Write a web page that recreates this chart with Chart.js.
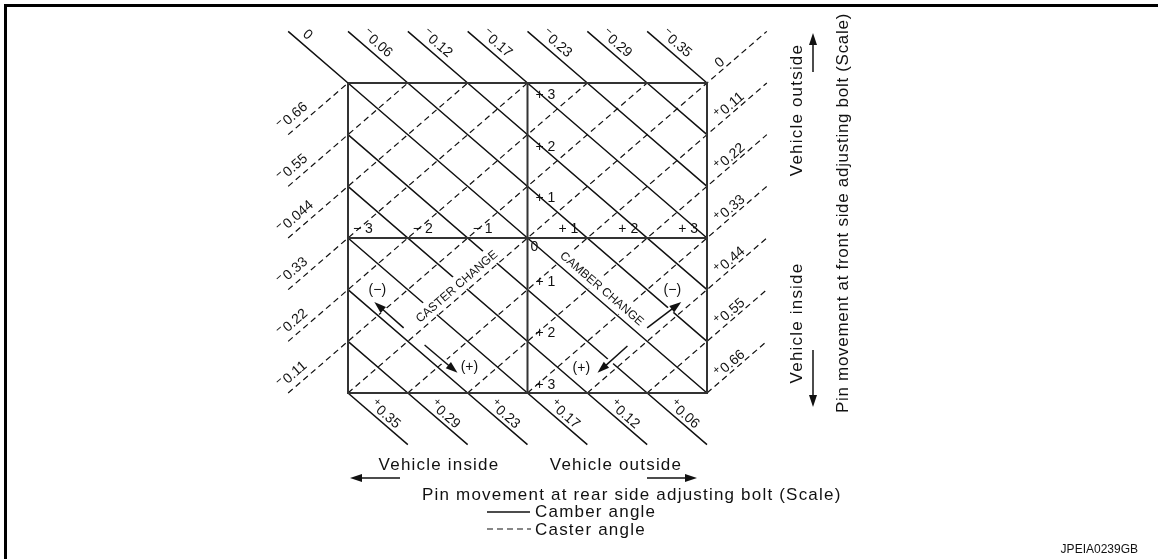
<!DOCTYPE html>
<html>
<head>
<meta charset="utf-8">
<script src="https://cdn.jsdelivr.net/npm/chart.js@4.4.1/dist/chart.umd.min.js"></script>
<style>
  html, body { margin: 0; padding: 0; background: #fff; }
  #wrap { position: relative; width: 1158px; height: 559px; }
</style>
</head>
<body>
<div id="wrap"><canvas id="myChart" width="1158" height="559"></canvas></div>
<script>
// rear bolt scale (x) and front bolt scale (y), in graduations
const rearTicks = [-3, -2, -1, 1, 2, 3];
const rearTickLabels = ['− 3', '− 2', '− 1', '+ 1', '+ 2', '+ 3'];
const frontTicks = [3, 2, 1, 0, -1, -2, -3];
const frontTickLabels = ['+ 3', '+ 2', '+ 1', '0', '+ 1', '+ 2', '+ 3'];

// camber angle lines (solid), index c = x + y
const camberTopIdx = [0, 1, 2, 3, 4, 5, 6];
const camberTopLabels = ['0', '−0.06', '−0.12', '−0.17', '−0.23', '−0.29', '−0.35'];
const camberBottomIdx = [-6, -5, -4, -3, -2, -1];
const camberBottomLabels = ['+0.35', '+0.29', '+0.23', '+0.17', '+0.12', '+0.06'];

// caster angle lines (dashed), index e = y - x
const casterLeftIdx = [6, 5, 4, 3, 2, 1];
const casterLeftLabels = ['−0.66', '−0.55', '−0.044', '−0.33', '−0.22', '−0.11'];
const casterRightIdx = [0, -1, -2, -3, -4, -5, -6];
const casterRightLabels = ['0', '+0.11', '+0.22', '+0.33', '+0.44', '+0.55', '+0.66'];

// direction arrows, in scale units [x1, y1, x2, y2]
const arrows = [
  [-2.07, -1.74, -2.56, -1.24],
  [-1.72, -2.07, -1.17, -2.61],
  [2.0, -1.74, 2.57, -1.24],
  [1.67, -2.09, 1.17, -2.61]
];
const arrowSigns = [['(−)', -2.51, -1.0], ['(+)', -0.97, -2.5], ['(−)', 2.42, -1.0], ['(+)', 0.9, -2.52]];

const FONT = '"Liberation Sans", Arial, sans-serif';
const INK = '#111';

// where the -3..3 box sits on the page
const BOX = { left: 348, right: 707, top: 83, bottom: 393 };
const ux = (BOX.right - BOX.left) / 6, uy = (BOX.bottom - BOX.top) / 6;

let datasets = [];

// outer box and centre lines
datasets.push({ data: [{x: -3, y: 3}, {x: 3, y: 3}, {x: 3, y: -3}, {x: -3, y: -3}, {x: -3, y: 3}],
  borderColor: '#333', borderWidth: 2 });
datasets.push({ data: [{x: 0, y: 3}, {x: 0, y: -3}], borderColor: '#333', borderWidth: 2 });
datasets.push({ data: [{x: -3, y: 0}, {x: 3, y: 0}], borderColor: '#333', borderWidth: 2 });

// camber lines
[...camberBottomIdx, ...camberTopIdx].forEach(c => {
  let pts;
  if (c >= 0) pts = [{x: c - 4, y: 4}, {x: c - 3, y: 3}, {x: 3, y: c - 3}];
  else pts = [{x: -3, y: c + 3}, {x: c + 3, y: -3}, {x: c + 4, y: -4}];
  datasets.push({ data: pts, borderColor: INK, borderWidth: 1.5 });
});

// caster lines
[...casterLeftIdx, ...casterRightIdx].forEach(e => {
  let pts;
  if (e >= 1) pts = [{x: -4, y: e - 4}, {x: -3, y: e - 3}, {x: 3 - e, y: 3}];
  else pts = [{x: -3 - e, y: -3}, {x: 3, y: 3 + e}, {x: 4, y: 4 + e}];
  datasets.push({ data: pts, borderColor: INK, borderWidth: 1.2, borderDash: [6, 4] });
});

datasets.forEach(d => { d.showLine = true; d.pointRadius = 0; d.fill = false; d.clip = false; });

function signedText(ctx, str, x, y, size) {
  let off = 0, s = str;
  if (s[0] === '−' || s[0] === '+') {
    ctx.font = (size - 3) + 'px ' + FONT;
    ctx.fillText(s[0], x, y - 5);
    off = ctx.measureText(s[0]).width + 1;
    s = s.slice(1);
  }
  ctx.font = size + 'px ' + FONT;
  ctx.fillText(s, x + off, y);
}

function diagText(ctx, x0, y0, ang, along, perp, str) {
  const dx = Math.cos(ang), dy = Math.sin(ang);
  ctx.save();
  ctx.translate(x0 + dx * along + dy * perp, y0 + dy * along - dx * perp);
  ctx.rotate(ang);
  ctx.textAlign = 'left';
  ctx.textBaseline = 'alphabetic';
  signedText(ctx, str, 0, 0, 14);
  ctx.restore();
}

function boxedText(ctx, str, x, y, ang, size) {
  ctx.save();
  ctx.translate(x, y);
  ctx.rotate(ang);
  ctx.font = size + 'px ' + FONT;
  const w = ctx.measureText(str).width;
  ctx.fillStyle = '#fff';
  ctx.fillRect(-w / 2 - 3, -size / 2 - 3, w + 6, size + 6);
  ctx.fillStyle = INK;
  ctx.textAlign = 'center';
  ctx.textBaseline = 'middle';
  ctx.fillText(str, 0, 1);
  ctx.restore();
}

function arrow(ctx, x1, y1, x2, y2, halo) {
  const a = Math.atan2(y2 - y1, x2 - x1), L = 12, W = 4;
  if (halo) {
    ctx.strokeStyle = '#fff'; ctx.lineWidth = 7;
    ctx.beginPath(); ctx.moveTo(x1, y1); ctx.lineTo(x2, y2); ctx.stroke();
  }
  ctx.strokeStyle = INK; ctx.lineWidth = 1.5; ctx.setLineDash([]);
  ctx.beginPath(); ctx.moveTo(x1, y1); ctx.lineTo(x2 - L * Math.cos(a) * 0.5, y2 - L * Math.sin(a) * 0.5); ctx.stroke();
  ctx.fillStyle = INK;
  ctx.beginPath();
  ctx.moveTo(x2, y2);
  ctx.lineTo(x2 - L * Math.cos(a) + W * Math.sin(a), y2 - L * Math.sin(a) - W * Math.cos(a));
  ctx.lineTo(x2 - L * Math.cos(a) - W * Math.sin(a), y2 - L * Math.sin(a) + W * Math.cos(a));
  ctx.closePath(); ctx.fill();
}

function plainText(ctx, str, x, y, size, align, rot, spacing) {
  ctx.save();
  ctx.translate(x, y);
  if (rot) ctx.rotate(rot);
  ctx.font = size + 'px ' + FONT;
  ctx.letterSpacing = (spacing === undefined ? 1.2 : spacing) + 'px';
  ctx.fillStyle = INK;
  ctx.textAlign = align;
  ctx.textBaseline = 'middle';
  ctx.fillText(str, 0, 0);
  ctx.restore();
}

const annotate = {
  id: 'annotate',
  afterDraw(chart) {
    const ctx = chart.ctx;
    const X = v => chart.scales.x.getPixelForValue(v);
    const Y = v => chart.scales.y.getPixelForValue(v);
    const ang = Math.atan2(Y(-1) - Y(0), X(1) - X(0));
    ctx.save();

    // frame
    ctx.fillStyle = '#000';
    ctx.fillRect(4, 4, 1154, 3);
    ctx.fillRect(4, 4, 3, 555);
    ctx.fillStyle = INK;

    // camber labels
    camberTopIdx.forEach((c, i) => diagText(ctx, X(c - 4), Y(4), ang, 13, 6, camberTopLabels[i]));
    camberBottomIdx.forEach((c, i) => diagText(ctx, X(c + 3), Y(-3), ang, 25, 4, camberBottomLabels[i]));
    // caster labels
    casterLeftIdx.forEach((e, i) => diagText(ctx, X(-4), Y(e - 4), -ang, -2, 7, casterLeftLabels[i]));
    casterRightIdx.forEach((e, i) => diagText(ctx, X(3), Y(3 + e), -ang, 19, 3, casterRightLabels[i]));

    // scale graduations on the centre lines
    ctx.font = '14px ' + FONT;
    ctx.textBaseline = 'alphabetic';
    rearTicks.forEach((t, i) => {
      ctx.textAlign = t < 0 ? 'left' : 'right';
      ctx.fillText(rearTickLabels[i], X(t) + (t < 0 ? 5 : -9), Y(0) - 5);
    });
    ctx.textAlign = 'left';
    frontTicks.forEach((t, i) => {
      if (t > 0) ctx.fillText(frontTickLabels[i], X(0) + 8, Y(t) + 16);
      else if (t === 0) ctx.fillText(frontTickLabels[i], X(0) + 3, Y(t) + 13);
      else ctx.fillText(frontTickLabels[i], X(0) + 8, Y(t) - 4);
    });

    // change labels
    boxedText(ctx, 'CASTER CHANGE', X(-1.19), Y(-0.93), -ang, 12);
    boxedText(ctx, 'CAMBER CHANGE', X(1.25), Y(-0.97), ang, 12);

    arrows.forEach(a => arrow(ctx, X(a[0]), Y(a[1]), X(a[2]), Y(a[3]), true));
    ctx.font = '14px ' + FONT;
    ctx.textAlign = 'center';
    ctx.textBaseline = 'middle';
    arrowSigns.forEach(s => {
      ctx.fillStyle = '#fff';
      ctx.fillRect(X(s[1]) - 11, Y(s[2]) - 9, 22, 18);
      ctx.fillStyle = INK;
      ctx.fillText(s[0], X(s[1]), Y(s[2]));
    });

    // right-hand axis titles
    plainText(ctx, 'Vehicle outside', 797, 110, 17, 'center', -Math.PI / 2);
    plainText(ctx, 'Vehicle inside', 797, 323, 17, 'center', -Math.PI / 2);
    plainText(ctx, 'Pin movement at front side adjusting bolt (Scale)', 843, 213, 17, 'center', -Math.PI / 2, 0.7);
    arrow(ctx, 813, 72, 813, 33, false);
    arrow(ctx, 813, 350, 813, 407, false);

    // bottom axis titles
    plainText(ctx, 'Vehicle inside', 439, 465, 17, 'center');
    plainText(ctx, 'Vehicle outside', 616, 465, 17, 'center');
    arrow(ctx, 400, 478, 350, 478, false);
    arrow(ctx, 647, 478, 697, 478, false);
    plainText(ctx, 'Pin movement at rear side adjusting bolt (Scale)', 422, 495, 17, 'left');

    // legend
    ctx.strokeStyle = INK; ctx.lineWidth = 1.4;
    ctx.beginPath(); ctx.moveTo(487, 512); ctx.lineTo(530, 512); ctx.stroke();
    ctx.setLineDash([6, 4]); ctx.lineWidth = 1.2;
    ctx.beginPath(); ctx.moveTo(487, 529); ctx.lineTo(531, 529); ctx.stroke();
    ctx.setLineDash([]);
    plainText(ctx, 'Camber angle', 535, 512, 17, 'left');
    plainText(ctx, 'Caster angle', 535, 530, 17, 'left');

    ctx.font = '12px ' + FONT;
    ctx.fillStyle = INK;
    ctx.textAlign = 'right';
    ctx.textBaseline = 'middle';
    ctx.fillText('JPEIA0239GB', 1138, 550);
    ctx.restore();
  }
};

const config = {
  type: 'scatter',
  data: { datasets: datasets },
  options: {
    responsive: false,
    animation: false,
    devicePixelRatio: 1,
    layout: { padding: 0 },
    plugins: { legend: { display: false }, tooltip: { enabled: false } },
    scales: {
      x: { type: 'linear', display: false, min: -3 - BOX.left / ux, max: 3 + (1158 - BOX.right) / ux },
      y: { type: 'linear', display: false, min: -3 - (559 - BOX.bottom) / uy, max: 3 + BOX.top / uy }
    }
  },
  plugins: [annotate]
};

const myChart = new Chart(document.getElementById('myChart'), config);
</script>
</body>
</html>
